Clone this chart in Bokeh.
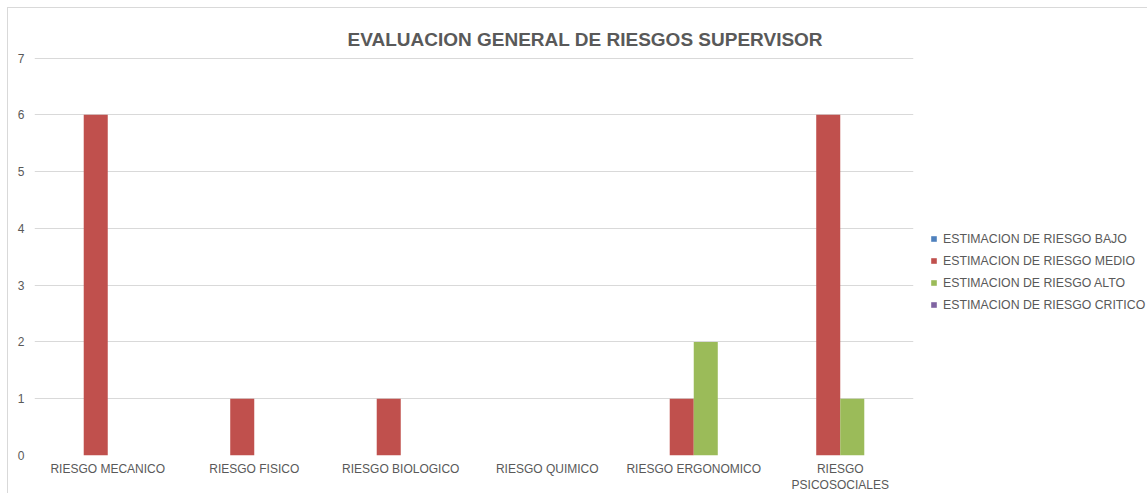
from bokeh.plotting import figure
from bokeh.models import ColumnDataSource, FactorRange, Legend, LegendItem, Range1d, FixedTicker
from bokeh.transform import dodge
from bokeh.embed import file_html
from bokeh.resources import INLINE

categories = ["RIESGO MECANICO", "RIESGO FISICO", "RIESGO BIOLOGICO",
              "RIESGO QUIMICO", "RIESGO ERGONOMICO", "RIESGO\nPSICOSOCIALES"]
series_names = ["ESTIMACION DE RIESGO BAJO", "ESTIMACION DE RIESGO MEDIO",
                "ESTIMACION DE RIESGO ALTO", "ESTIMACION DE RIESGO CRITICO"]
bajo = [0, 0, 0, 0, 0, 0]
medio = [6, 1, 1, 0, 1, 6]
alto = [0, 0, 0, 0, 2, 1]
critico = [0, 0, 0, 0, 0, 0]
y_ticks = [0, 1, 2, 3, 4, 5, 6, 7]
title_text = "EVALUACION GENERAL DE RIESGOS SUPERVISOR"

colors = ["#4F81BD", "#C0504D", "#9BBB59", "#8064A2"]
TXT = "#595959"
FONT = "Liberation Sans"

source = ColumnDataSource(dict(cat=categories, bajo=bajo, medio=medio, alto=alto, critico=critico))

p = figure(x_range=FactorRange(*categories, range_padding=0), y_range=Range1d(0, 7.01),
           frame_width=879, frame_height=398, output_backend="svg", toolbar_location=None,
           min_border_left=26, min_border_right=224, min_border_top=49, min_border_bottom=35)
p.margin = (7, 0, 0, 7)
p.styles = {"border": "1px solid #d9d9d9"}

bw = 0.164
offsets = [-1.5 * bw, -0.5 * bw, 0.5 * bw, 1.5 * bw]
keys = ["bajo", "medio", "alto", "critico"]
renderers = []
for k, off, c in zip(keys, offsets, colors):
    r = p.vbar(x=dodge("cat", off, range=p.x_range), top=k, width=bw, source=source,
               fill_color=c, line_color=None)
    renderers.append(r)

legend = Legend(items=[LegendItem(label=n, renderers=[r]) for n, r in zip(series_names, renderers)],
                location=(17, 143), padding=0, margin=0, border_line_color=None,
                background_fill_alpha=0, glyph_width=7, glyph_height=7, label_height=15,
                spacing=7, label_standoff=6, label_text_font=FONT, label_text_font_size="12.3px",
                label_text_color=TXT)
p.add_layout(legend, "right")

p.title.text = title_text
p.title.align = "left"
p.title.offset = 313
p.title.text_font = FONT
p.title.text_font_size = "19px"
p.title.text_font_style = "bold"
p.title.text_color = TXT
p.title.standoff = 16

p.xgrid.grid_line_color = None
p.ygrid.grid_line_color = "#d9d9d9"
p.ygrid.ticker = FixedTicker(ticks=y_ticks)
p.yaxis.ticker = FixedTicker(ticks=y_ticks)
p.outline_line_color = None

for ax in (p.xaxis[0], p.yaxis[0]):
    ax.axis_line_color = None
    ax.major_tick_line_color = None
    ax.minor_tick_line_color = None
    ax.major_label_text_font = FONT
    ax.major_label_text_font_size = "12px"
    ax.major_label_text_color = TXT
p.yaxis.major_label_standoff = 4
p.xaxis.major_label_standoff = 0

open("out.html", "w").write(file_html(p, INLINE))
